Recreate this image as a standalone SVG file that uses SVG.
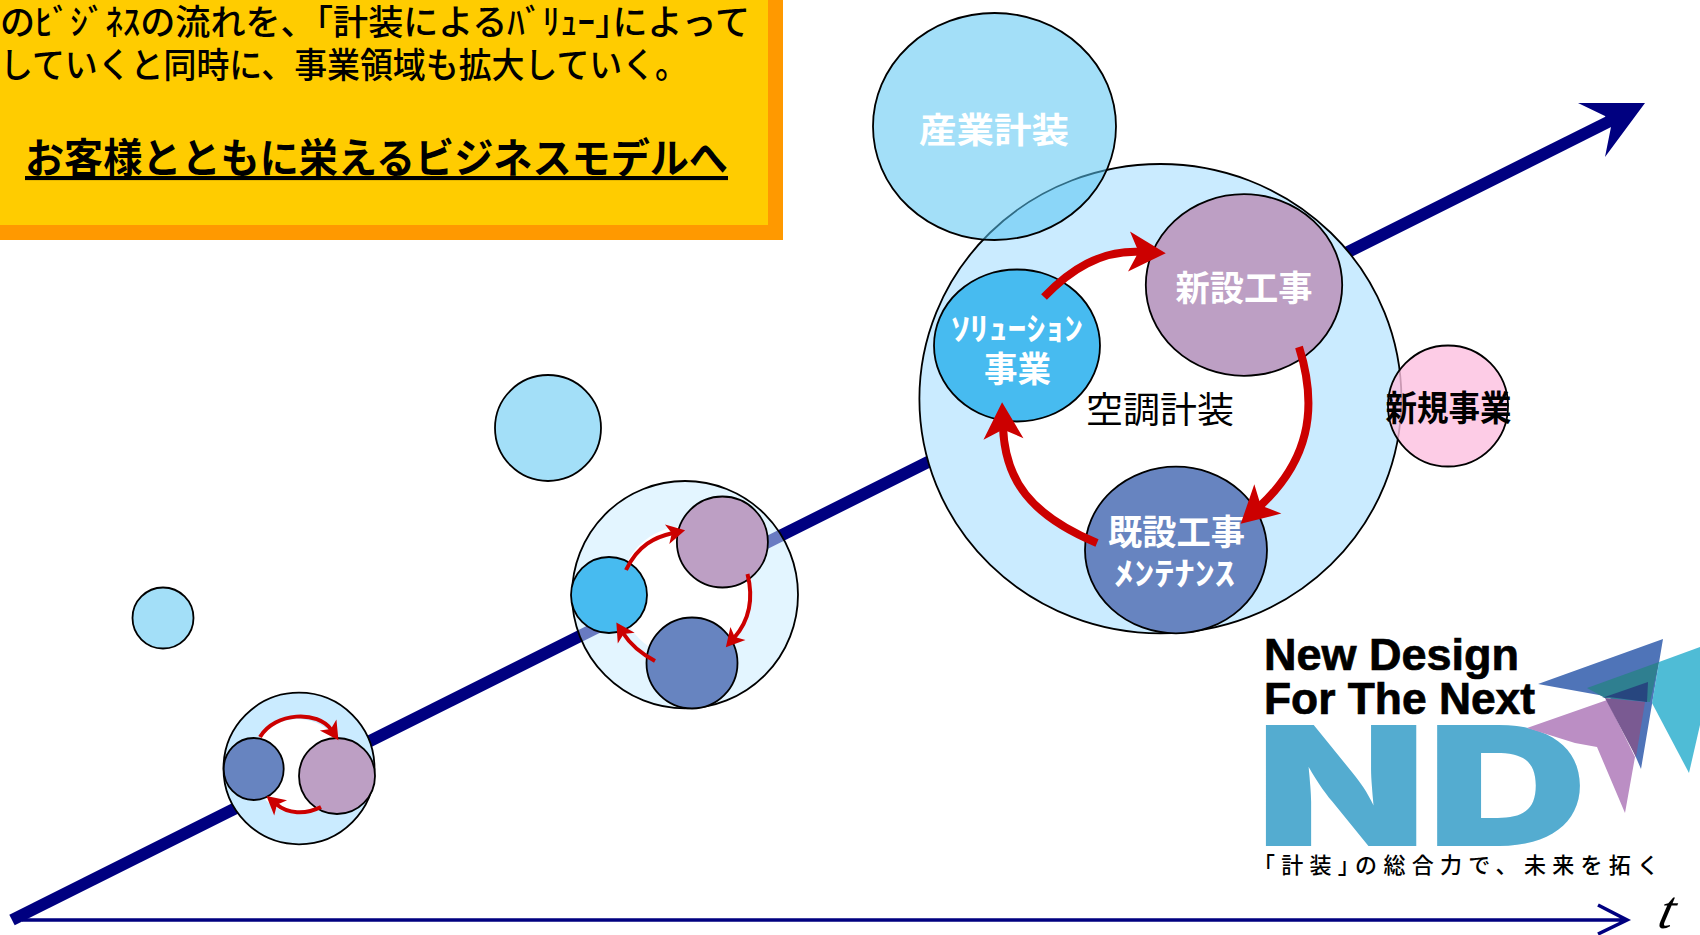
<svg xmlns="http://www.w3.org/2000/svg" width="1700" height="935" viewBox="0 0 1700 935">
<style>
text{font-family:"Noto Sans CJK JP","Liberation Sans",sans-serif}
.o{stroke:#000;stroke-width:1.8}
.lb{fill:#caebff}
.lbm{fill:#caebff;fill-opacity:.52}
.w{fill:#fff}
.p{fill:#bd9fc4}
.c{fill:#47bbf0}
.b{fill:#6784c0}
.s{fill:#58c5f2;fill-opacity:.55}
.arc{fill:none;stroke:#cc0000;marker-end:url(#rh)}
.t1{font-size:35px;font-weight:500;fill:#000}
.wl{font-size:35px;font-weight:700;fill:#fff}
.kl{font-size:35px;font-weight:700;fill:#000}
.kata{font-size:32px;font-weight:700;fill:#fff}
.en{font-family:"Liberation Sans",sans-serif;font-size:44px;font-weight:700;fill:#000;stroke:#000;stroke-width:.7}
</style>
<defs>
<marker id="rh" markerUnits="strokeWidth" markerWidth="6" markerHeight="6" refX="1.5" refY="3" orient="auto" overflow="visible">
<path d="M0,0.5 L4.6,3 L0,5.5 L1.2,3Z" fill="#cc0000"/>
</marker>
</defs>
<rect width="1700" height="935" fill="#fff"/>

<g id="axes">
<line x1="12" y1="920" x2="1610" y2="121" stroke="#000080" stroke-width="12"/>
<polygon points="1578,103 1645,103 1605,157 1611,127 1605,116" fill="#000080"/>
<path d="M22,920H1625M1598,905L1627,920L1598,934" fill="none" stroke="#000080" stroke-width="3.6"/>
</g>
<text id="t-label" transform="translate(1656 928) skewX(-14)" x="0" y="0" style="font-family:'Liberation Serif',serif;font-style:italic;font-size:54px" fill="#000">t</text>

<g id="message">
<rect x="0" y="0" width="783" height="240" fill="#ff9900"/>
<rect x="0" y="0" width="768" height="225" fill="#ffcc00"/>
<text class="t1" x="0" y="35" textLength="750" lengthAdjust="spacingAndGlyphs">のﾋﾞｼﾞﾈｽの流れを、｢計装によるﾊﾞﾘｭｰ｣によって</text>
<text class="t1" x="0" y="78" textLength="688" lengthAdjust="spacingAndGlyphs">していくと同時に、事業領域も拡大していく。</text>
<text x="25" y="173" textLength="703" lengthAdjust="spacingAndGlyphs" style="font-size:41px;font-weight:700" fill="#000" text-decoration="underline">お客様とともに栄えるビジネスモデルへ</text>
</g>

<g id="stage1">
<ellipse class="lb o" cx="299" cy="768.5" rx="75.5" ry="75.8"/>
<circle class="w" cx="298" cy="766" r="47"/>
<ellipse class="b o" cx="253.7" cy="769" rx="30" ry="31"/>
<circle class="p o" cx="337" cy="776" r="38"/>
</g>
<ellipse id="bubble1" class="s o" cx="163" cy="618" rx="30.5" ry="30.5"/>

<g id="stage2">
<ellipse class="lbm o" cx="685" cy="594.7" rx="113" ry="113.7"/>
<circle class="w" cx="686" cy="592" r="66"/>
<circle class="c o" cx="609" cy="595" r="38"/>
<circle class="p o" cx="722.4" cy="542" r="45.5"/>
<circle class="b o" cx="692" cy="663" r="45.5"/>
</g>
<circle id="bubble2" class="s o" cx="548" cy="428" r="53"/>

<g id="stage3">
<ellipse class="lb o" cx="1160.4" cy="398.7" rx="241" ry="234.7"/>
<path class="w" d="M1044,297C1070,270 1100,250 1141,252L1245,290L1299,347C1319,410 1308,462 1259,507L1180,560L1097,543C1030,515 1005,480 1003,427L1010,340Z"/>
</g>
<g id="node-solution">
<ellipse class="c o" cx="1017" cy="345.5" rx="83" ry="76"/>
<text class="kata" x="951" y="340" textLength="132" lengthAdjust="spacingAndGlyphs">ｿﾘｭｰｼｮﾝ</text>
<text class="wl" x="984" y="382" textLength="67" lengthAdjust="spacingAndGlyphs">事業</text>
</g>
<g id="node-new">
<ellipse class="p o" cx="1244" cy="285" rx="98.2" ry="90.8"/>
<text class="wl" x="1175.5" y="301" textLength="137" lengthAdjust="spacingAndGlyphs">新設工事</text>
</g>
<g id="node-maint">
<ellipse class="b o" cx="1176" cy="550" rx="91" ry="83.3"/>
<text class="wl" x="1108" y="545" textLength="137" lengthAdjust="spacingAndGlyphs">既設工事</text>
<text class="kata" x="1114" y="585" textLength="121" lengthAdjust="spacingAndGlyphs">ﾒﾝﾃﾅﾝｽ</text>
</g>
<text id="label-hvac" x="1086" y="423" textLength="148" lengthAdjust="spacingAndGlyphs" style="font-size:36px;font-weight:400" fill="#000">空調計装</text>
<g id="node-industrial">
<ellipse class="s o" cx="994.5" cy="126.5" rx="121.5" ry="113.5"/>
<text class="wl" x="919" y="143" textLength="150" lengthAdjust="spacingAndGlyphs">産業計装</text>
</g>
<g id="node-newbiz">
<ellipse class="o" cx="1448" cy="406" rx="60" ry="60.5" fill="#fcbfe0" fill-opacity=".8"/>
<text class="kl" x="1385.5" y="421" textLength="126" lengthAdjust="spacingAndGlyphs">新規事業</text>
</g>

<g id="connectors">
<path class="arc" stroke-width="8" d="M1044,297C1070,270 1100,250 1141,252"/>
<path class="arc" stroke-width="8" d="M1299,347C1319,410 1308,462 1259,507"/>
<path class="arc" stroke-width="8" d="M1097,543C1030,515 1005,480 1003,427"/>
<path class="arc" stroke-width="4" d="M626,570C638,545 655,537 673,533"/>
<path class="arc" stroke-width="4" d="M747.5,574C754,600 748,622 734,638"/>
<path class="arc" stroke-width="4" d="M655,661C640,653 630,644 623,633"/>
<path class="arc" stroke-width="4" d="M260,737C275,712 318,710 331.5,730"/>
<path class="arc" stroke-width="4" d="M321,807C305,815 288,814 276,804"/>
</g>

<g id="logo">
<text class="en" x="1264" y="670" textLength="255" lengthAdjust="spacingAndGlyphs">New Design</text>
<text class="en" x="1264" y="714" textLength="271" lengthAdjust="spacingAndGlyphs">For The Next</text>
<text x="1255.5" y="846" textLength="332" lengthAdjust="spacingAndGlyphs" style="font-family:Inter,'Liberation Sans',sans-serif;font-size:167px;font-weight:900" fill="#54acd0">ND</text>
<polygon points="1538,684 1663,639 1641,769 1610,697" fill="#4f74b8"/>
<polygon points="1587,688 1659,662 1650,702 1605,698" fill="#2f7f90"/>
<polygon points="1602,698 1648,682 1647,702 1609,697" fill="#27467f"/>
<polygon points="1659,662 1700,647 1700,725 1689,773 1652,703" fill="#4fbcd6"/>
<polygon points="1527,728 1607,700 1635,757 1625,813 1597,747 1575,743" fill="#bb8ec4"/>
<polygon points="1605,698 1645,702 1636,757" fill="#7a5a92"/>
<text x="1264" y="873" textLength="395" style="font-size:22px;font-weight:500" fill="#000">｢計装｣の総合力で、未来を拓く</text>
</g>
</svg>
